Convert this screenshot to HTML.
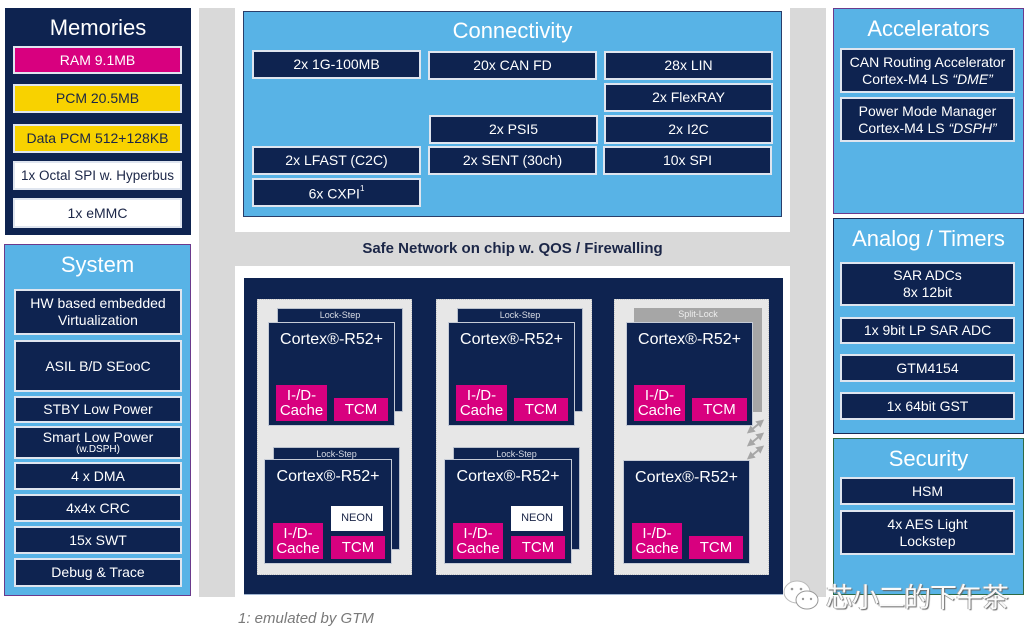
<!DOCTYPE html>
<html><head><meta charset="utf-8"><style>
*{margin:0;padding:0;box-sizing:border-box}
body{width:1033px;height:643px;background:#fff;position:relative;overflow:hidden;font-family:"Liberation Sans","Noto Sans CJK SC",sans-serif}
.a{position:absolute}
.nb{position:absolute;background:#0e2350;border:2px solid #dfe5ef;color:#fff;font-size:14px;text-align:center;display:flex;align-items:center;justify-content:center;line-height:17px}
.t{position:absolute;color:#fff;font-size:22px;text-align:center;left:0;right:0}
.pk{position:absolute;background:#d8007f;color:#fff;font-size:15px;text-align:center;display:flex;align-items:center;justify-content:center;line-height:15px}
.core{position:absolute;background:#0e2350;border:1px solid #c5cbd6}
.back{position:absolute;background:#0e2350;border:1px solid #b9c0cc}
.ls{position:absolute;left:0;right:0;top:1px;text-align:center;color:#d9dde6;font-size:9px}
.ct{position:absolute;left:0;right:0;top:8px;text-align:center;color:#fff;font-size:16px}
.cl{position:absolute;background:#e7e7e7;border:1px dotted #c8c8c8}
</style></head><body>

<!-- gray background -->
<div class="a" style="left:199px;top:8px;width:627px;height:589px;background:#d9d9d9"></div>

<!-- Memories -->
<div class="a" style="left:5px;top:8px;width:186px;height:227px;background:#0e2350">
  <div class="t" style="top:7px">Memories</div>
</div>
<div class="nb" style="left:13px;top:46px;width:169px;height:28px;background:#d8007f"><span>RAM 9.1MB</span></div>
<div class="nb" style="left:13px;top:84px;width:169px;height:29px;background:#f8d200;color:#1b2647"><span>PCM 20.5MB</span></div>
<div class="nb" style="left:13px;top:124px;width:169px;height:29px;background:#f8d200;color:#1b2647"><span>Data PCM 512+128KB</span></div>
<div class="nb" style="left:13px;top:161px;width:169px;height:29px;background:#fff;color:#1b2647;font-size:13.5px;white-space:nowrap"><span>1x Octal SPI w. Hyperbus</span></div>
<div class="nb" style="left:13px;top:198px;width:169px;height:30px;background:#fff;color:#1b2647"><span>1x eMMC</span></div>

<!-- System -->
<div class="a" style="left:4px;top:244px;width:187px;height:352px;background:#58b3e6;border:1px solid #6b3a8c">
  <div class="t" style="top:7px">System</div>
</div>
<div class="nb" style="left:14px;top:289px;width:168px;height:46px"><span>HW based embedded<br>Virtualization</span></div>
<div class="nb" style="left:14px;top:340px;width:168px;height:52px"><span>ASIL B/D SEooC</span></div>
<div class="nb" style="left:14px;top:396px;width:168px;height:27px"><span>STBY Low Power</span></div>
<div class="nb" style="left:14px;top:426px;width:168px;height:33px;flex-direction:column;line-height:14px"><span>Smart Low Power</span><span style="font-size:10px;line-height:11px">(w.DSPH)</span></div>
<div class="nb" style="left:14px;top:462px;width:168px;height:28px"><span>4 x DMA</span></div>
<div class="nb" style="left:14px;top:494px;width:168px;height:28px"><span>4x4x CRC</span></div>
<div class="nb" style="left:14px;top:526px;width:168px;height:28px"><span>15x SWT</span></div>
<div class="nb" style="left:14px;top:558px;width:168px;height:29px"><span>Debug &amp; Trace</span></div>

<!-- Connectivity -->
<div class="a" style="left:235px;top:8px;width:555px;height:224px;background:#fff"></div>
<div class="a" style="left:243px;top:11px;width:539px;height:206px;background:#58b3e6;border:1px solid #2a3e6a">
  <div class="t" style="top:6px">Connectivity</div>
</div>
<div class="nb" style="left:252px;top:50px;width:169px;height:29px"><span>2x 1G-100MB</span></div>
<div class="nb" style="left:428px;top:51px;width:169px;height:29px"><span>20x CAN FD</span></div>
<div class="nb" style="left:604px;top:51px;width:169px;height:29px"><span>28x LIN</span></div>
<div class="nb" style="left:604px;top:83px;width:169px;height:29px"><span>2x FlexRAY</span></div>
<div class="nb" style="left:429px;top:115px;width:169px;height:29px"><span>2x PSI5</span></div>
<div class="nb" style="left:604px;top:115px;width:169px;height:29px"><span>2x I2C</span></div>
<div class="nb" style="left:252px;top:146px;width:169px;height:29px"><span>2x LFAST (C2C)</span></div>
<div class="nb" style="left:428px;top:146px;width:169px;height:29px"><span>2x SENT (30ch)</span></div>
<div class="nb" style="left:603px;top:146px;width:169px;height:29px"><span>10x SPI</span></div>
<div class="nb" style="left:252px;top:178px;width:169px;height:29px"><span>6x CXPI<sup style="font-size:8px;position:relative;top:-2px">1</sup></span></div>

<div class="a" style="left:199px;top:240px;width:627px;text-align:center;font-weight:bold;font-size:15px;color:#1b2647">Safe Network on chip w. QOS / Firewalling</div>

<!-- Cores area -->
<div class="a" style="left:235px;top:266px;width:555px;height:331px;background:#fff"></div>
<div class="a" style="left:244px;top:278px;width:539px;height:317px;background:#0e2350;border-bottom:1px solid #9fb4d0"></div>

<!-- cluster 1 -->
<div class="cl" style="left:257px;top:299px;width:155px;height:276px"></div>
<div class="back" style="left:277px;top:308px;width:126px;height:104px"><div class="ls">Lock-Step</div></div>
<div class="core" style="left:268px;top:322px;width:127px;height:104px"><div class="ct">Cortex®-R52+</div></div>
<div class="pk" style="left:276px;top:385px;width:51px;height:36px"><span>I-/D-<br>Cache</span></div>
<div class="pk" style="left:334px;top:398px;width:54px;height:23px"><span>TCM</span></div>

<div class="back" style="left:273px;top:447px;width:127px;height:103px"><div class="ls">Lock-Step</div></div>
<div class="core" style="left:264px;top:459px;width:128px;height:105px"><div class="ct">Cortex®-R52+</div></div>
<div class="a" style="left:331px;top:506px;width:52px;height:25px;background:#fff;color:#1b2647;font-size:11px;text-align:center;line-height:25px">NEON</div>
<div class="pk" style="left:331px;top:536px;width:54px;height:23px"><span>TCM</span></div>
<div class="pk" style="left:273px;top:523px;width:50px;height:36px"><span>I-/D-<br>Cache</span></div>

<!-- cluster 2 -->
<div class="cl" style="left:436px;top:299px;width:156px;height:276px"></div>
<div class="back" style="left:457px;top:308px;width:126px;height:104px"><div class="ls">Lock-Step</div></div>
<div class="core" style="left:448px;top:322px;width:127px;height:104px"><div class="ct">Cortex®-R52+</div></div>
<div class="pk" style="left:456px;top:385px;width:51px;height:36px"><span>I-/D-<br>Cache</span></div>
<div class="pk" style="left:514px;top:398px;width:54px;height:23px"><span>TCM</span></div>

<div class="back" style="left:453px;top:447px;width:127px;height:103px"><div class="ls">Lock-Step</div></div>
<div class="core" style="left:444px;top:459px;width:128px;height:105px"><div class="ct">Cortex®-R52+</div></div>
<div class="a" style="left:511px;top:506px;width:52px;height:25px;background:#fff;color:#1b2647;font-size:11px;text-align:center;line-height:25px">NEON</div>
<div class="pk" style="left:511px;top:536px;width:54px;height:23px"><span>TCM</span></div>
<div class="pk" style="left:453px;top:523px;width:50px;height:36px"><span>I-/D-<br>Cache</span></div>

<!-- cluster 3 -->
<div class="cl" style="left:614px;top:299px;width:155px;height:276px"></div>
<div class="a" style="left:634px;top:308px;width:128px;height:104px;background:#a6a6a6"><div class="ls" style="color:#eee">Split-Lock</div></div>
<div class="core" style="left:626px;top:322px;width:127px;height:104px"><div class="ct">Cortex®-R52+</div></div>
<div class="pk" style="left:634px;top:385px;width:51px;height:36px"><span>I-/D-<br>Cache</span></div>
<div class="pk" style="left:692px;top:398px;width:55px;height:23px"><span>TCM</span></div>

<div class="core" style="left:623px;top:460px;width:127px;height:104px"><div class="ct">Cortex®-R52+</div></div>
<div class="pk" style="left:632px;top:523px;width:50px;height:36px"><span>I-/D-<br>Cache</span></div>
<div class="pk" style="left:689px;top:536px;width:54px;height:23px"><span>TCM</span></div>

<svg class="a" style="left:740px;top:412px" width="30" height="55" viewBox="0 0 30 55">
 <defs><marker id="ah" markerWidth="4" markerHeight="4" refX="2" refY="2" orient="auto-start-reverse"><path d="M0,0 L4,2 L0,4 z" fill="#a6a6a6"/></marker></defs>
 <g stroke="#a6a6a6" stroke-width="2">
  <line x1="10" y1="19" x2="21" y2="10" marker-start="url(#ah)" marker-end="url(#ah)"/>
  <line x1="10" y1="32" x2="21" y2="23" marker-start="url(#ah)" marker-end="url(#ah)"/>
  <line x1="10" y1="45" x2="21" y2="36" marker-start="url(#ah)" marker-end="url(#ah)"/>
 </g>
</svg>

<!-- Accelerators -->
<div class="a" style="left:833px;top:8px;width:191px;height:206px;background:#58b3e6;border:1px solid #6b3a8c">
  <div class="t" style="top:7px">Accelerators</div>
</div>
<div class="nb" style="left:840px;top:48px;width:175px;height:45px;white-space:nowrap"><span>CAN Routing Accelerator<br>Cortex-M4 LS <i>“DME”</i></span></div>
<div class="nb" style="left:840px;top:97px;width:175px;height:45px;white-space:nowrap"><span>Power Mode Manager<br>Cortex-M4 LS <i>“DSPH”</i></span></div>

<!-- Analog / Timers -->
<div class="a" style="left:833px;top:218px;width:191px;height:216px;background:#58b3e6;border:1px solid #1b2a55">
  <div class="t" style="top:7px">Analog / Timers</div>
</div>
<div class="nb" style="left:840px;top:262px;width:175px;height:44px"><span>SAR ADCs<br>8x 12bit</span></div>
<div class="nb" style="left:840px;top:317px;width:175px;height:27px"><span>1x 9bit LP SAR ADC</span></div>
<div class="nb" style="left:840px;top:354px;width:175px;height:28px"><span>GTM4154</span></div>
<div class="nb" style="left:840px;top:392px;width:175px;height:28px"><span>1x 64bit GST</span></div>

<!-- Security -->
<div class="a" style="left:833px;top:438px;width:191px;height:157px;background:#58b3e6;border:1px solid #2f6a45">
  <div class="t" style="top:7px">Security</div>
</div>
<div class="nb" style="left:840px;top:477px;width:175px;height:28px"><span>HSM</span></div>
<div class="nb" style="left:840px;top:510px;width:175px;height:45px"><span>4x AES Light<br>Lockstep</span></div>

<!-- footnote -->
<div class="a" style="left:238px;top:610px;font-size:15px;font-style:italic;color:#7a7a7a">1: emulated by GTM</div>

<!-- watermark -->
<svg class="a" style="left:782px;top:578px" width="40" height="36" viewBox="0 0 40 36">
 <ellipse cx="15" cy="14" rx="13" ry="11" fill="#fff" stroke="#bbb" stroke-width="1"/>
 <ellipse cx="25" cy="22" rx="11" ry="9" fill="#fff" stroke="#999" stroke-width="1"/>
 <circle cx="10" cy="11" r="1.3" fill="#999"/><circle cx="19" cy="11" r="1.3" fill="#999"/>
 <circle cx="21" cy="21" r="1.2" fill="#999"/><circle cx="29" cy="21" r="1.2" fill="#999"/>
</svg>
<div class="a" style="left:826px;top:580px;font-size:27px;color:#fafafa;font-family:'Noto Sans CJK SC','WenQuanYi Zen Hei',sans-serif;text-shadow:1px 1px 1px #666,-1px 0 0 #aaa;letter-spacing:-1px;line-height:32px">芯小二的下午茶</div>

</body></html>
